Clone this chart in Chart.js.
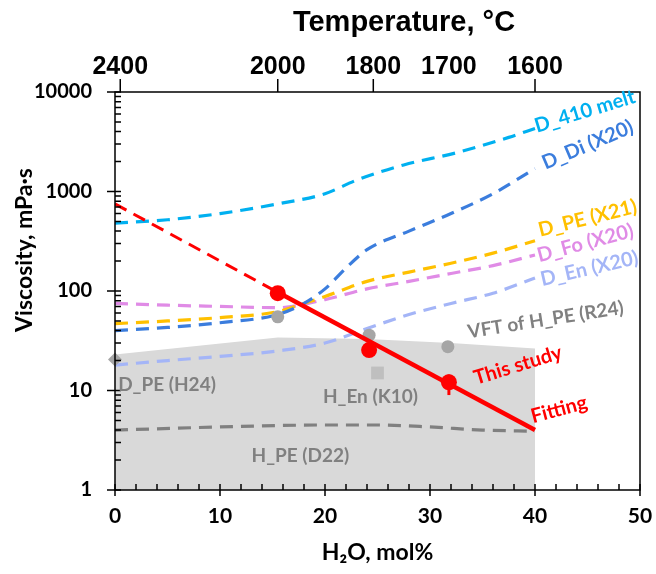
<!DOCTYPE html>
<html>
<head>
<meta charset="utf-8">
<script src="https://cdn.jsdelivr.net/npm/chart.js@4.4.0/dist/chart.umd.min.js"></script>
<style>
	body { margin: 0; background: #fff; }
</style>
</head>
<body>
<canvas id="myChartViscosity" width="656" height="574"></canvas>
<script>
// top axis: temperature labels and where they sit on the H2O axis
var tempLabels = ['2400', '2000', '1800', '1700', '1600'];
var tempPos = [0.5, 15.5, 24.6, 31.8, 40];

// dashed literature curves (x = H2O mol%, y = viscosity mPa s)
var d410X = [0, 5, 10, 15.5, 20, 23, 27.5, 32.5, 37.5, 40];
var d410Y = [480, 520, 600, 750, 950, 1300, 1850, 2450, 3500, 4300];
var dDiX = [0, 5, 10, 15.5, 18, 20, 22, 24, 28, 32, 36, 40];
var dDiY = [40, 43, 48, 58, 75, 105, 170, 260, 400, 600, 950, 1700];
var dPeX = [0, 5, 10, 15.5, 18, 20, 24, 28, 32, 36, 40];
var dPeY = [47, 50, 54, 62, 75, 88, 125, 155, 190, 240, 320];
var dFoX = [0, 5, 10, 15.5, 20, 24, 28, 32, 36, 40];
var dFoY = [75, 72, 70, 68, 82, 105, 125, 150, 180, 230];
var dEnX = [0, 5, 10, 15.5, 20, 24, 28, 32, 36, 40];
var dEnY = [18, 20, 22, 25, 30, 42, 58, 75, 95, 135];
var hPeX = [0, 10, 20, 25, 30, 35, 40];
var hPeY = [4.0, 4.3, 4.5, 4.5, 4.3, 4.0, 3.9];

// grey band (VFT of H_PE) down to the axis
var bandX = [0, 15.5, 24, 32, 40];
var bandY = [23, 34, 33, 30, 26.5];

// this study
var studyX = [15.5, 24.2, 31.8];
var studyY = [95, 25.5, 12.1];
var errX = [31.8, 31.8];
var errY = [9, 14.5];
var fitDashX = [0, 15.5];
var fitDashY = [750, 97];
var fitX = [15.5, 40];
var fitY = [97, 4];

// other measurements
var vftX = [15.5, 24.2, 31.7];
var vftY = [55, 36, 27.6];
var hEnX = [25];
var hEnY = [15];
var dPeH24X = [0];
var dPeH24Y = [20.5];

function pts(xs, ys) {
	return xs.map(function (x, i) {
		return { x: x, y: ys[i] };
	});
}

// text labels: [text, x, y, angle, color, size]
var labels = [
	['D_410 melt', 40.2, 3900, -17, '#00B0F0', 20],
	['D_Di (X20)', 41.0, 1650, -23, '#3B7DDD', 20],
	['D_PE (X21)', 40.5, 350, -14, '#FFC000', 20],
	['D_Fo (X20)', 40.4, 195, -15, '#E08BE6', 20],
	['D_En (X20)', 40.7, 112, -13, '#A4B5F7', 20],
	['VFT of H_PE (R24)', 33.7, 33.5, -9, '#808080', 19],
	['This study', 34.4, 11.4, -17, '#FF0000', 20],
	['Fitting', 39.8, 4.7, -15, '#FF0000', 20],
	['D_PE (H24)', 0.3, 9.9, 0, '#808080', 19],
	['H_En (K10)', 19.8, 7.5, 0, '#808080', 19],
	['H_PE (D22)', 13.0, 1.9, 0, '#808080', 19],
];

var dash = [13, 8];

var framePlugin = {
	id: 'frame',
	afterDraw: function (chart) {
		var ctx = chart.ctx;
		var a = chart.chartArea;
		var xs = chart.scales.x;
		var ys = chart.scales.y;
		var x2 = chart.scales.x2;
		ctx.save();
		ctx.strokeStyle = '#000';
		ctx.lineWidth = 1.5;
		ctx.strokeRect(a.left, a.top, a.right - a.left, a.bottom - a.top);
		ctx.beginPath();
		// y ticks
		for (var d = 1; d <= 10000; d *= 10) {
			var py = ys.getPixelForValue(d);
			ctx.moveTo(a.left - 8, py);
			ctx.lineTo(a.left + 6, py);
			if (d < 10000) {
				for (var m = 2; m <= 9; m++) {
					var pm = ys.getPixelForValue(d * m);
					ctx.moveTo(a.left, pm);
					ctx.lineTo(a.left + 6, pm);
				}
			}
		}
		// x ticks
		for (var v = 0; v <= 50; v += 2) {
			var px = xs.getPixelForValue(v);
			if (v % 10 == 0) {
				ctx.moveTo(px, a.bottom + 6);
				ctx.lineTo(px, a.bottom - 6);
			} else {
				ctx.moveTo(px, a.bottom);
				ctx.lineTo(px, a.bottom - 6);
			}
		}
		// top ticks (no mark for 1700)
		tempPos.forEach(function (p, i) {
			if (tempLabels[i] == '1700') return;
			var pt = x2.getPixelForValue(p);
			ctx.moveTo(pt, a.top);
			ctx.lineTo(pt, a.top - 13);
		});
		ctx.stroke();

		// axis titles
		ctx.fillStyle = '#000';
		ctx.textAlign = 'center';
		ctx.textBaseline = 'middle';
		ctx.font = 'bold 29px "Liberation Sans"';
		ctx.fillText('Temperature, °C', 404, 23);
		ctx.font = 'bold 23px Lato';
		ctx.fillText('H₂O, mol%', (a.left + a.right) / 2, 553);
		ctx.save();
		ctx.translate(25, 250);
		ctx.rotate(-Math.PI / 2);
		ctx.font = 'bold 23px Lato';
		ctx.fillText('Viscosity, mPa·s', 0, 0);
		ctx.restore();

		labels.forEach(function (l) {
			ctx.save();
			ctx.translate(xs.getPixelForValue(l[1]), ys.getPixelForValue(l[2]));
			ctx.rotate((l[3] * Math.PI) / 180);
			ctx.fillStyle = l[4];
			ctx.font = 'bold ' + l[5] + 'px Lato';
			ctx.textAlign = 'left';
			ctx.textBaseline = 'alphabetic';
			ctx.fillText(l[0], 0, 0);
			ctx.restore();
		});
		ctx.restore();
	},
};

function noSidePad(s) {
	s.paddingLeft = 0;
	s.paddingRight = 0;
}

var ctx = document.getElementById('myChartViscosity');
var myChart = new Chart(ctx, {
	type: 'line',
	data: {
		datasets: [
			{
				label: 'This study',
				data: pts(studyX, studyY),
				showLine: false,
				pointRadius: 8,
				pointBackgroundColor: '#FF0000',
				pointBorderWidth: 0,
			},
			{
				label: 'error',
				data: pts(errX, errY),
				borderColor: '#FF0000',
				borderWidth: 3,
				borderDash: [],
				pointRadius: 0,
			},
			{
				label: 'Fitting',
				data: pts(fitX, fitY),
				borderColor: '#FF0000',
				borderWidth: 4.5,
				borderDash: [],
				pointRadius: 0,
			},
			{
				label: 'Fitting extrapolated',
				data: pts(fitDashX, fitDashY),
				borderColor: '#FF0000',
				borderWidth: 3,
				pointRadius: 0,
			},
			{
				label: 'VFT of H_PE (R24)',
				data: pts(vftX, vftY),
				showLine: false,
				pointRadius: 6.5,
				pointBackgroundColor: '#A6A6A6',
				pointBorderWidth: 0,
			},
			{
				label: 'H_En (K10)',
				data: pts(hEnX, hEnY),
				showLine: false,
				pointStyle: 'rect',
				pointRadius: 9,
				pointBackgroundColor: '#BFBFBF',
				pointBorderWidth: 0,
			},
			{
				label: 'D_PE (H24)',
				data: pts(dPeH24X, dPeH24Y),
				showLine: false,
				clip: false,
				pointStyle: 'rectRot',
				pointRadius: 7,
				pointBackgroundColor: '#A6A6A6',
				pointBorderWidth: 0,
			},
			{
				label: 'D_410 melt',
				data: pts(d410X, d410Y),
				borderColor: '#00B0F0',
			},
			{
				label: 'D_Di (X20)',
				data: pts(dDiX, dDiY),
				borderColor: '#3B7DDD',
			},
			{
				label: 'D_PE (X21)',
				data: pts(dPeX, dPeY),
				borderColor: '#FFC000',
			},
			{
				label: 'D_Fo (X20)',
				data: pts(dFoX, dFoY),
				borderColor: '#E08BE6',
			},
			{
				label: 'D_En (X20)',
				data: pts(dEnX, dEnY),
				borderColor: '#A4B5F7',
			},
			{
				label: 'H_PE (D22)',
				data: pts(hPeX, hPeY),
				borderColor: '#808080',
			},
			{
				label: 'band',
				data: pts(bandX, bandY),
				borderWidth: 0,
				borderColor: 'rgba(0,0,0,0)',
				backgroundColor: '#D9D9D9',
				fill: 'start',
				borderDash: [],
				cubicInterpolationMode: 'default',
				tension: 0,
			},
		],
	},
	options: {
		responsive: false,
		animation: false,
		layout: { padding: { left: 0, right: 16, top: 0, bottom: 0 } },
		datasets: {
			line: {
				borderWidth: 3.2,
				borderDash: dash,
				pointRadius: 0,
				cubicInterpolationMode: 'monotone',
			},
		},
		plugins: {
			legend: { display: false },
			tooltip: { enabled: false },
		},
		scales: {
			x: {
				type: 'linear',
				position: 'bottom',
				min: 0,
				max: 50,
				afterFit: function (s) {
					s.height = 84;
					noSidePad(s);
				},
				grid: { display: false, drawTicks: false },
				border: { display: false },
				ticks: {
					stepSize: 10,
					padding: 14,
					color: '#000',
					font: { family: 'Lato', weight: 'bold', size: 21 },
				},
			},
			x2: {
				type: 'linear',
				position: 'top',
				min: 0,
				max: 50,
				afterFit: function (s) {
					s.height = 92;
					noSidePad(s);
				},
				afterBuildTicks: function (s) {
					s.ticks = tempPos.map(function (p) {
						return { value: p };
					});
				},
				grid: { display: false, drawTicks: false },
				border: { display: false },
				ticks: {
					padding: 10,
					color: '#000',
					autoSkip: false,
					maxRotation: 0,
					font: { family: 'Liberation Sans', weight: 'bold', size: 25 },
					callback: function (v, i) {
						return tempLabels[i];
					},
				},
			},
			y: {
				type: 'logarithmic',
				position: 'left',
				min: 1,
				max: 10000,
				afterFit: function (s) {
					s.width = 115;
				},
				afterBuildTicks: function (s) {
					s.ticks = [1, 10, 100, 1000, 10000].map(function (v) {
						return { value: v };
					});
				},
				grid: { display: false, drawTicks: false },
				border: { display: false },
				ticks: {
					padding: 23,
					color: '#000',
					font: { family: 'Lato', weight: 'bold', size: 20 },
					callback: function (v) {
						return String(v);
					},
				},
			},
		},
	},
	plugins: [framePlugin],
});
</script>
</body>
</html>
